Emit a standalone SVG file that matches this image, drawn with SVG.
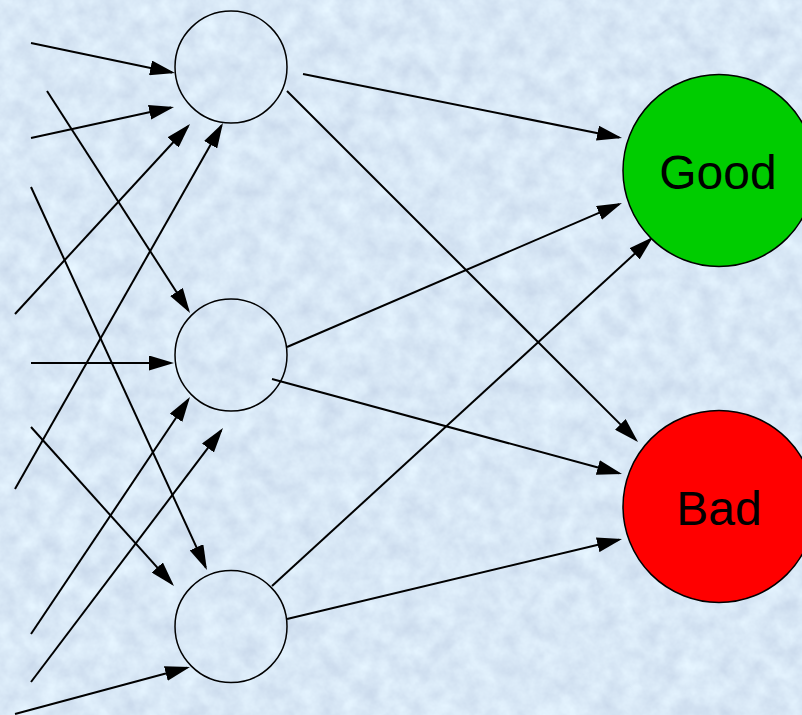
<svg xmlns="http://www.w3.org/2000/svg" width="802" height="715" viewBox="0 0 802 715">
  <style>
    .link { stroke: #000; stroke-width: 2; fill: none; marker-end: url(#arrow); }
    .hidden { fill: none; stroke: #000; stroke-width: 1.5; }
    .out { stroke: #000; stroke-width: 1.5; }
    .label { font-family: "Liberation Sans", Arial, sans-serif; font-size: 48px; fill: #000; text-anchor: middle; }
  </style>
  <defs>
    <marker id="arrow" markerUnits="userSpaceOnUse" markerWidth="25" markerHeight="15" refX="22" refY="7.5" orient="auto">
      <path d="M0,0 L25,7.5 L0,15 Z" fill="#000"/>
    </marker>
    <!-- mottled pale-blue paper texture -->
    <filter id="paper" x="0" y="0" width="100%" height="100%" color-interpolation-filters="sRGB">
      <feTurbulence type="fractalNoise" baseFrequency="0.05" numOctaves="4" seed="7" result="noise"/>
      <feColorMatrix in="noise" type="matrix" values="0.14 0 0 0 0.78  0.14 0 0 0 0.84  0.1 0 0 0 0.915  0 0 0 0 1"/>
    </filter>
  </defs>

  <rect width="802" height="715" fill="#dae8f6"/>
  <rect width="802" height="715" filter="url(#paper)"/>

  <g id="connectors">
    <!-- inputs into hidden node 1 -->
    <line class="link" x1="31" y1="43" x2="172.1" y2="72.4"/>
    <line class="link" x1="31" y1="138" x2="171.1" y2="107.6"/>
    <line class="link" x1="15" y1="314" x2="188" y2="126.2"/>
    <line class="link" x1="15" y1="489" x2="221.5" y2="125.6"/>
    <!-- inputs into hidden node 2 -->
    <line class="link" x1="47" y1="91" x2="188.4" y2="310.5"/>
    <line class="link" x1="31" y1="363" x2="171" y2="363"/>
    <line class="link" x1="31" y1="634" x2="188.3" y2="399.5"/>
    <line class="link" x1="31" y1="682" x2="221.2" y2="430.4"/>
    <!-- inputs into hidden node 3 -->
    <line class="link" x1="31" y1="187" x2="205.7" y2="567.3"/>
    <line class="link" x1="31" y1="427" x2="172" y2="583.8"/>
    <line class="link" x1="15" y1="714" x2="187.1" y2="667.8"/>
    <!-- hidden to output -->
    <line class="link" x1="303" y1="74" x2="619.1" y2="137.4"/>
    <line class="link" x1="287" y1="91" x2="635.9" y2="439.9"/>
    <line class="link" x1="287" y1="347" x2="619.2" y2="204.2"/>
    <line class="link" x1="272" y1="379" x2="619.1" y2="473.2"/>
    <line class="link" x1="272" y1="586" x2="650.8" y2="239"/>
    <line class="link" x1="287" y1="619" x2="619.1" y2="539.7"/>
  </g>

  <g id="hidden1"><circle class="hidden" cx="231" cy="67" r="56"/></g>
  <g id="hidden2"><circle class="hidden" cx="231" cy="355" r="56"/></g>
  <g id="hidden3"><circle class="hidden" cx="231" cy="626.5" r="56"/></g>

  <g id="good">
    <circle class="out" cx="719" cy="170.5" r="96" fill="#00cc00"/>
    <text class="label" x="718" y="189">Good</text>
  </g>
  <g id="bad">
    <circle class="out" cx="719" cy="506.5" r="96" fill="#ff0000"/>
    <text class="label" x="719" y="525">Bad</text>
  </g>
</svg>
